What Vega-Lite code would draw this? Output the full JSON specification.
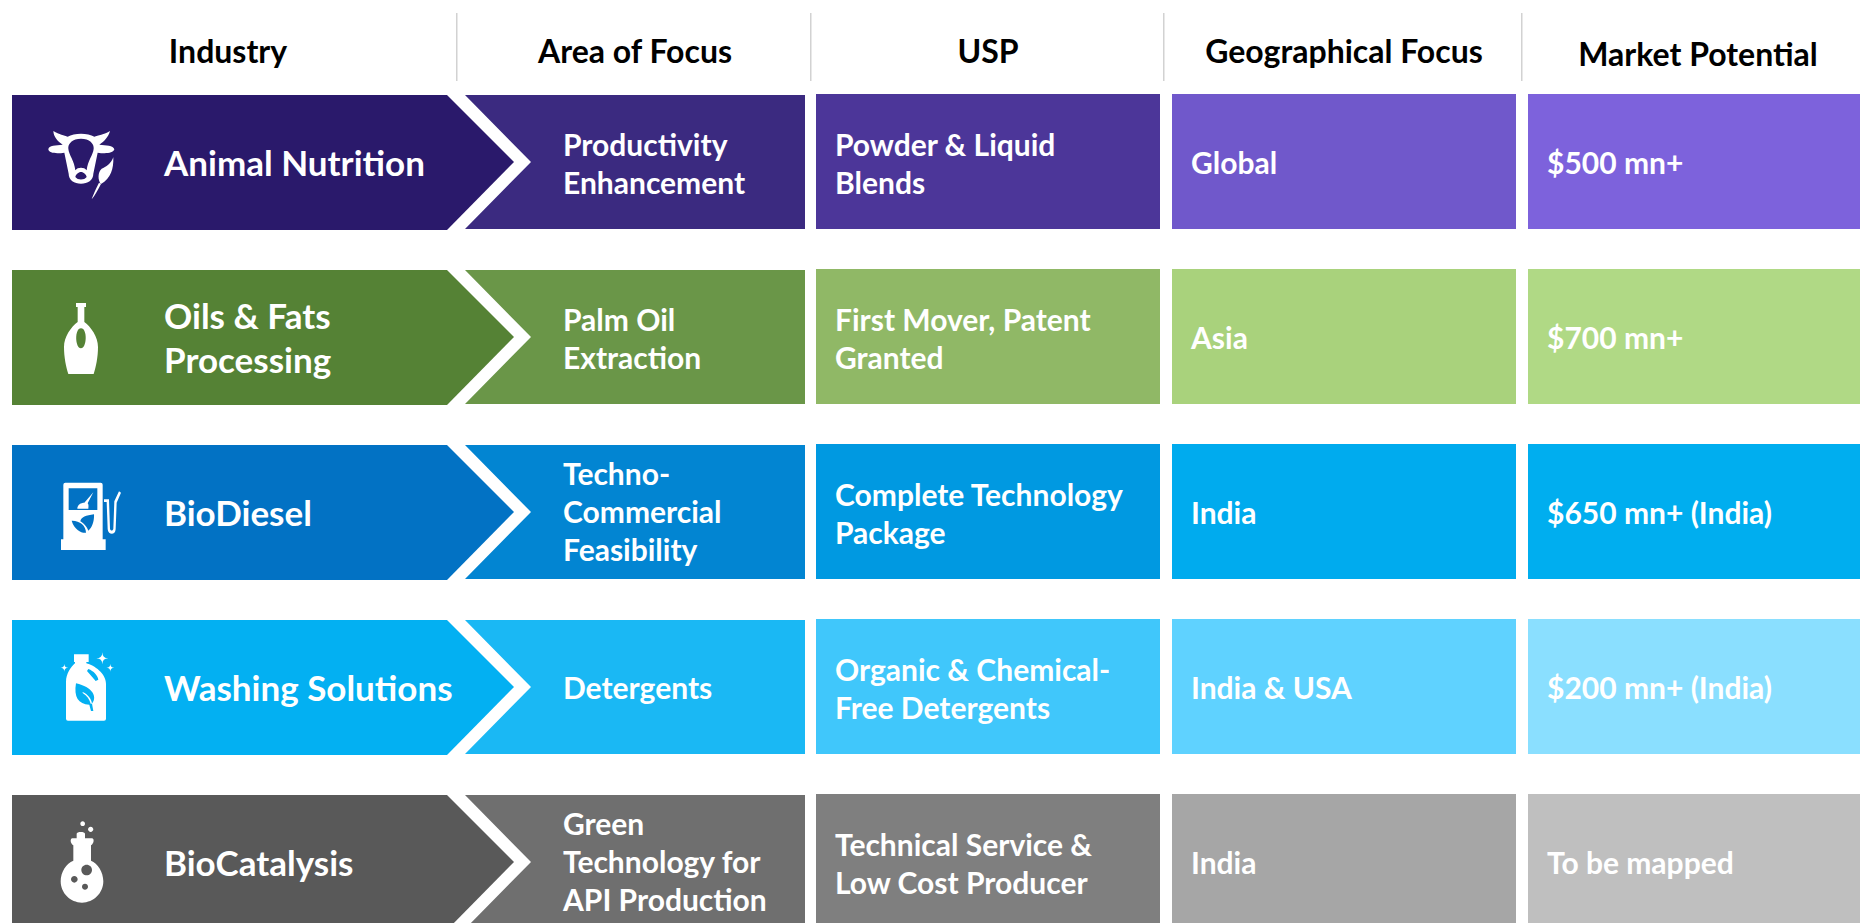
{
"$schema":"https://vega.github.io/schema/vega-lite/v6.json",
"width":1860,"height":923,"padding":0,"autosize":{"type":"none"},
"background":"#ffffff","view":{"stroke":null},
"data":{"values":[
{"row":"Animal Nutrition","col":"Industry","cell":"AN1","label":"Animal Nutrition"},
{"row":"Animal Nutrition","col":"Area of Focus","cell":"AN2","label":"Productivity\nEnhancement"},
{"row":"Animal Nutrition","col":"USP","cell":"AN3","label":"Powder & Liquid\nBlends"},
{"row":"Animal Nutrition","col":"Geographical Focus","cell":"AN4","label":"Global"},
{"row":"Animal Nutrition","col":"Market Potential","cell":"AN5","label":"$500 mn+"},
{"row":"Oils & Fats Processing","col":"Industry","cell":"OF1","label":"Oils & Fats\nProcessing"},
{"row":"Oils & Fats Processing","col":"Area of Focus","cell":"OF2","label":"Palm Oil\nExtraction"},
{"row":"Oils & Fats Processing","col":"USP","cell":"OF3","label":"First Mover, Patent\nGranted"},
{"row":"Oils & Fats Processing","col":"Geographical Focus","cell":"OF4","label":"Asia"},
{"row":"Oils & Fats Processing","col":"Market Potential","cell":"OF5","label":"$700 mn+"},
{"row":"BioDiesel","col":"Industry","cell":"BD1","label":"BioDiesel"},
{"row":"BioDiesel","col":"Area of Focus","cell":"BD2","label":"Techno-\nCommercial\nFeasibility"},
{"row":"BioDiesel","col":"USP","cell":"BD3","label":"Complete Technology\nPackage"},
{"row":"BioDiesel","col":"Geographical Focus","cell":"BD4","label":"India"},
{"row":"BioDiesel","col":"Market Potential","cell":"BD5","label":"$650 mn+ (India)"},
{"row":"Washing Solutions","col":"Industry","cell":"WS1","label":"Washing Solutions"},
{"row":"Washing Solutions","col":"Area of Focus","cell":"WS2","label":"Detergents"},
{"row":"Washing Solutions","col":"USP","cell":"WS3","label":"Organic & Chemical-\nFree Detergents"},
{"row":"Washing Solutions","col":"Geographical Focus","cell":"WS4","label":"India & USA"},
{"row":"Washing Solutions","col":"Market Potential","cell":"WS5","label":"$200 mn+ (India)"},
{"row":"BioCatalysis","col":"Industry","cell":"BC1","label":"BioCatalysis"},
{"row":"BioCatalysis","col":"Area of Focus","cell":"BC2","label":"Green\nTechnology for\nAPI Production"},
{"row":"BioCatalysis","col":"USP","cell":"BC3","label":"Technical Service &\nLow Cost Producer"},
{"row":"BioCatalysis","col":"Geographical Focus","cell":"BC4","label":"India"},
{"row":"BioCatalysis","col":"Market Potential","cell":"BC5","label":"To be mapped"}
]},
"encoding":{
"x":{"field":"col","type":"nominal","axis":null,"scale":{"type":"point","padding":0,"domain":["Industry","Area of Focus","USP","Geographical Focus","Market Potential"],"range":[276,1700]}},
"y":{"field":"row","type":"nominal","axis":null,"scale":{"type":"point","padding":0,"domain":["Header","Animal Nutrition","Oils & Fats Processing","BioDiesel","Washing Solutions","BioCatalysis"],"range":[-13,862]}}
},
"resolve":{"scale":{"shape":"independent"}},
"layer":[
{"mark":{"type":"point","filled":true,"size":4,"opacity":1,"strokeWidth":0},
"encoding":{
"shape":{"field":"col","type":"nominal","legend":null,"scale":{"domain":["Industry","Area of Focus","USP","Geographical Focus","Market Potential"],"range":["M-264,-67 H171 L238,0 L171,68 H-264 Z","M-167,-67 H173 V67 H-167 L-101,0 Z","M-172,-68 H172 V67 H-172 Z","M-172,-68 H172 V67 H-172 Z","M-172,-68 H172 V67 H-172 Z"]}},
"color":{"field":"cell","type":"nominal","legend":null,"scale":{"domain":["AN1","AN2","AN3","AN4","AN5","OF1","OF2","OF3","OF4","OF5","BD1","BD2","BD3","BD4","BD5","WS1","WS2","WS3","WS4","WS5","BC1","BC2","BC3","BC4","BC5"],"range":["#2a196b","#3b2a80","#4c3699","#7058cb","#7d62dc","#558235","#6a9648","#90b866","#a9d27c","#b0d985","#0272c4","#0285d2","#0099e1","#00abee","#00aeef","#03b0f2","#1ab8f4","#40c7fb","#5fd2ff","#8adfff","#595959","#6f6f6f","#7f7f7f","#a6a6a6","#bfbfbf"]}}
}},
{"transform":[{"filter":"datum.col==='Industry'"}],
"mark":{"type":"point","filled":true,"size":0.4444,"opacity":1,"strokeWidth":0,"xOffset":-195,"color":"#ffffff"},
"encoding":{
"shape":{"field":"row","type":"nominal","legend":null,"scale":{"domain":["Animal Nutrition","Oils & Fats Processing","BioDiesel","Washing Solutions","BioCatalysis"],"range":[
"M-83,-93 C-65,-82 -50,-80 -40,-76 C-20,-88 20,-88 40,-76 C50,-80 70,-82 87,-93 C82,-75 70,-62 55,-52 C75,-50 97,-50 100,-38 C97,-25 70,-25 50,-28 L37,35 C37,55 20,65 0,65 C-20,65 -37,55 -37,35 L-50,-28 C-70,-25 -97,-25 -98,-38 C-97,-50 -75,-50 -55,-52 C-70,-62 -82,-75 -83,-93 Z M0,-70 C-25,-70 -40,-55 -38,-40 C-36,-20 -20,-5 -17,25 C-10,15 10,15 17,25 C20,-5 36,-20 38,-40 C40,-55 25,-70 0,-70 Z M-17,45 C-10,55 10,55 17,45 C15,35 5,30 0,30 C-5,30 -15,35 -17,45 Z M97,-14 C98,20 90,50 60,66 C50,55 50,30 62,20 C75,15 90,5 97,-14 Z M60,66 C50,85 42,100 32,112 C36,100 45,80 54,62 Z",
"M-15,-102 H15 V-90 H10 V-45 C30,-30 51,0 51,30 C51,60 45,90 38,111 H-38 C-45,90 -51,60 -51,30 C-51,0 -30,-30 -10,-45 V-90 H-15 Z M0,-26 C-20,-26 -18,34 0,34 C18,34 20,-26 0,-26 Z",
"M-47,-88 H59 Q65,-88 65,-82 V82 H74 V114 H-60 V82 H-53 V-82 Q-53,-88 -47,-88 Z M-37,-71 V-6 H49 V-71 Z M-28,26 C-20,55 5,65 15,62 C15,40 -5,25 -28,26 Z M39,7 C15,10 0,15 -2,28 C8,33 18,45 22,56 C35,45 40,25 39,7 Z M69,-38 L84,-38 L87,50 C88,57 96,57 97,50 L100,-32 L114,-62 L120,-58 L107,-28 L104,52 C103,70 82,70 80,52 L77,-30 L69,-30 Z M-11,-10 C-11,-22 0,-28 10,-28 L37,-59 L20,-26 C24,-22 22,-14 22,-10 Z",
"M-21,-98 H23 V-75 H16 V-71 C40,-65 75,-40 75,-10 V95 Q75,101 69,101 H-39 Q-45,101 -45,95 V-15 C-45,-40 -30,-60 -18,-71 V-75 H-21 Z M22,-54 L18,-48 L44,-18 L52,-22 C50,-35 38,-48 22,-54 Z M-15,-11 C-22,30 -8,52 25,53 L30,72 L37,72 L33,50 C50,30 35,0 -15,-11 Z M5,15 C22,22 32,38 33,50 L29,50 C26,38 18,26 5,18 Z M64,-104 Q64,-86 82,-86 Q64,-86 64,-68 Q64,-86 46,-86 Q64,-86 64,-104 Z M-50,-70 Q-50,-58 -38,-58 Q-50,-58 -50,-46 Q-50,-58 -62,-58 Q-50,-58 -50,-70 Z M88,-70 Q88,-58 100,-58 Q88,-58 88,-46 Q88,-58 76,-58 Q88,-58 88,-70 Z",
"M5,-122 C9,-122 12,-119 12,-115 C12,-111 9,-108 5,-108 C1,-108 -2,-111 -2,-115 C-2,-119 1,-122 5,-122 Z M29,-106 C33,-106 37,-102 37,-98 C37,-94 33,-90 29,-90 C25,-90 21,-94 21,-98 C21,-102 25,-106 29,-106 Z M-13,-85 C-13,-92 12,-92 12,-85 V-71 H33 C40,-71 40,-56 30,-50 V-4 C50,4 67,30 67,58 C67,93 38,122 3,122 C-32,122 -61,93 -61,58 C-61,30 -44,4 -23,-4 V-50 C-33,-56 -33,-71 -26,-71 H-13 Z M17,8 C8,8 1,15 1,24 C1,33 8,40 17,40 C26,40 33,33 33,24 C33,15 26,8 17,8 Z M-20,42 C-25.5,42 -30,46.5 -30,52 C-30,57.5 -25.5,62 -20,62 C-14.5,62 -10,57.5 -10,52 C-10,46.5 -14.5,42 -20,42 Z M12,65 C7,65 3,69 3,74 C3,79 7,83 12,83 C17,83 21,79 21,74 C21,69 17,65 12,65 Z"
]}}
}},
{"transform":[{"filter":"datum.col==='Industry'&&split(datum.label,'\\n').length===1"}],
"mark":{"type":"text","font":"Lato","fontWeight":"bold","fontSize":35,"color":"#ffffff","align":"left","baseline":"middle","dx":-112,"dy":2.5},
"encoding":{"text":{"field":"label"}}},
{"transform":[{"filter":"datum.col==='Industry'&&split(datum.label,'\\n').length===2"}],
"mark":{"type":"text","font":"Lato","fontWeight":"bold","fontSize":35,"color":"#ffffff","align":"left","baseline":"middle","lineBreak":"\n","lineHeight":44,"dx":-112,"dy":-19},
"encoding":{"text":{"field":"label"}}},
{"transform":[{"filter":"datum.col==='Area of Focus'&&split(datum.label,'\\n').length===1"}],
"mark":{"type":"text","font":"Lato","fontWeight":"bold","fontSize":30,"color":"#ffffff","align":"left","baseline":"middle","dx":-69,"dy":2.5},
"encoding":{"text":{"field":"label"}}},
{"transform":[{"filter":"datum.col==='Area of Focus'&&split(datum.label,'\\n').length===2"}],
"mark":{"type":"text","font":"Lato","fontWeight":"bold","fontSize":30,"color":"#ffffff","align":"left","baseline":"middle","lineBreak":"\n","lineHeight":38,"dx":-69,"dy":-15},
"encoding":{"text":{"field":"label"}}},
{"transform":[{"filter":"datum.col==='Area of Focus'&&split(datum.label,'\\n').length===3"}],
"mark":{"type":"text","font":"Lato","fontWeight":"bold","fontSize":30,"color":"#ffffff","align":"left","baseline":"middle","lineBreak":"\n","lineHeight":38,"dx":-69,"dy":-36},
"encoding":{"text":{"field":"label"}}},
{"transform":[{"filter":"datum.col!=='Industry'&&datum.col!=='Area of Focus'&&split(datum.label,'\\n').length===1"}],
"mark":{"type":"text","font":"Lato","fontWeight":"bold","fontSize":30,"color":"#ffffff","align":"left","baseline":"middle","dx":-153,"dy":2.5},
"encoding":{"text":{"field":"label"}}},
{"transform":[{"filter":"datum.col!=='Industry'&&datum.col!=='Area of Focus'&&split(datum.label,'\\n').length===2"}],
"mark":{"type":"text","font":"Lato","fontWeight":"bold","fontSize":30,"color":"#ffffff","align":"left","baseline":"middle","lineBreak":"\n","lineHeight":38,"dx":-153,"dy":-15},
"encoding":{"text":{"field":"label"}}},
{"data":{"values":[
{"row":"Header","col":"Area of Focus"},
{"row":"Header","col":"USP"},
{"row":"Header","col":"Geographical Focus"},
{"row":"Header","col":"Market Potential"}
]},
"mark":{"type":"point","filled":true,"size":4,"opacity":1,"strokeWidth":0,"color":"#d2d2d2"},
"encoding":{"shape":{"field":"col","type":"nominal","legend":null,"scale":{"domain":["Area of Focus","USP","Geographical Focus","Market Potential"],"range":["M-176,26 H-174.5 V94 H-176 Z","M-178,26 H-176.5 V94 H-178 Z","M-181,26 H-179.5 V94 H-181 Z","M-179,26 H-177.5 V94 H-179 Z"]}}}},
{"data":{"values":[{"row":"Header","col":"Industry","label":"Industry"}]},
"mark":{"type":"text","font":"Lato","fontWeight":"bold","fontSize":32,"color":"#000000","align":"center","baseline":"middle","dx":-48,"dy":66},
"encoding":{"text":{"field":"label"}}},
{"data":{"values":[{"row":"Header","col":"Area of Focus","label":"Area of Focus"}]},
"mark":{"type":"text","font":"Lato","fontWeight":"bold","fontSize":32,"color":"#000000","align":"center","baseline":"middle","dx":3,"dy":66},
"encoding":{"text":{"field":"label"}}},
{"data":{"values":[{"row":"Header","col":"USP","label":"USP"},{"row":"Header","col":"Geographical Focus","label":"Geographical Focus"}]},
"mark":{"type":"text","font":"Lato","fontWeight":"bold","fontSize":32,"color":"#000000","align":"center","baseline":"middle","dy":66},
"encoding":{"text":{"field":"label"}}},
{"data":{"values":[{"row":"Header","col":"Market Potential","label":"Market Potential"}]},
"mark":{"type":"text","font":"Lato","fontWeight":"bold","fontSize":32,"color":"#000000","align":"center","baseline":"middle","dx":-2,"dy":69},
"encoding":{"text":{"field":"label"}}}
]
}
